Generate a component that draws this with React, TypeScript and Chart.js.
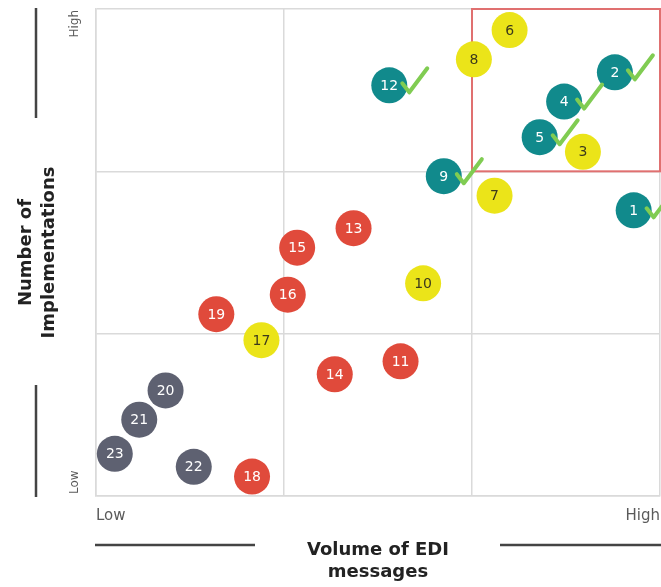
import React, { useEffect, useRef } from "react";
import { Chart, registerables } from "chart.js";

Chart.register(...registerables);

// ---- data ----
const pointIds = [1, 2, 3, 4, 5, 6, 7, 8, 9, 10, 11, 12, 13, 14, 15, 16, 17, 18, 19, 20, 21, 22, 23];
const volumeOfMessages = [28.6, 27.6, 25.9, 24.9, 23.6, 22.0, 21.2, 20.1, 18.5, 17.4, 16.2, 15.6, 13.7, 12.7, 10.7, 10.2, 8.8, 8.3, 6.4, 3.7, 2.3, 5.2, 1.0];
const numberOfImplementations = [17.6, 26.1, 21.2, 24.3, 22.1, 28.7, 18.5, 26.9, 19.7, 13.1, 8.3, 25.3, 16.5, 7.5, 15.3, 12.4, 9.6, 1.2, 11.2, 6.5, 4.7, 1.8, 2.6];
const pointGroup = ["teal", "teal", "yellow", "teal", "teal", "yellow", "yellow", "yellow", "teal", "yellow", "red", "teal", "red", "red", "red", "red", "yellow", "red", "red", "gray", "gray", "gray", "gray"];
const hasCheck = [true, true, false, true, true, false, false, false, true, false, false, true, false, false, false, false, false, false, false, false, false, false, false];
const groups = ["gray", "red", "yellow", "teal"];
const xTickLabels = ["Low", "High"];
const yTickLabels = ["Low", "High"];
const xTitle = ["Volume of EDI", "messages"];
const yTitle = ["Number of", "Implementations"];
const axisMin = 0;
const axisMax = 30;
const axisStep = 10;
const highlightBox = { xMin: 20, xMax: 30, yMin: 20, yMax: 30 };

const groupColors: Record<string, string> = {
  teal: "#118a8c",
  yellow: "#ebe419",
  red: "#e04a3b",
  gray: "#5e6171",
};
const labelColors: Record<string, string> = {
  teal: "#ffffff",
  yellow: "#3c3a1c",
  red: "#ffffff",
  gray: "#ffffff",
};

const FONT = "'DejaVu Sans', sans-serif";

const decorPlugin = {
  id: "decor",
  beforeDatasetsDraw(chart: any) {
    const { ctx, scales } = chart;
    const x = scales.x;
    const y = scales.y;
    ctx.save();
    ctx.strokeStyle = "#e07070";
    ctx.lineWidth = 2;
    const l = x.getPixelForValue(highlightBox.xMin);
    const r = x.getPixelForValue(highlightBox.xMax);
    const t = y.getPixelForValue(highlightBox.yMax);
    const b = y.getPixelForValue(highlightBox.yMin);
    ctx.strokeRect(l, t, r - l, b - t);
    ctx.restore();
  },
  afterDatasetsDraw(chart: any) {
    const { ctx } = chart;
    ctx.save();
    ctx.textAlign = "center";
    ctx.textBaseline = "middle";
    ctx.font = `14px ${FONT}`;
    chart.data.datasets.forEach((ds: any, di: number) => {
      const meta = chart.getDatasetMeta(di);
      meta.data.forEach((el: any, i: number) => {
        const raw = ds.data[i];
        ctx.fillStyle = labelColors[ds.group];
        ctx.fillText(String(raw.id), el.x, el.y + 1);
      });
    });
    // check marks
    ctx.strokeStyle = "#80cc52";
    ctx.lineWidth = 4;
    ctx.lineCap = "round";
    ctx.lineJoin = "round";
    chart.data.datasets.forEach((ds: any, di: number) => {
      const meta = chart.getDatasetMeta(di);
      meta.data.forEach((el: any, i: number) => {
        if (!ds.data[i].check) return;
        ctx.beginPath();
        ctx.moveTo(el.x + 13, el.y - 2);
        ctx.lineTo(el.x + 20, el.y + 7);
        ctx.lineTo(el.x + 38, el.y - 17);
        ctx.stroke();
      });
    });
    ctx.restore();
  },
  afterDraw(chart: any) {
    const { ctx, chartArea } = chart;
    const { left, right, top, bottom } = chartArea;
    ctx.save();
    // y tick labels (rotated)
    ctx.fillStyle = "#5a5a5a";
    ctx.font = `12px ${FONT}`;
    ctx.textBaseline = "middle";
    const tx = left - 21;
    ctx.save();
    ctx.translate(tx, top + 1);
    ctx.rotate(-Math.PI / 2);
    ctx.textAlign = "right";
    ctx.fillText(yTickLabels[1], 0, 0);
    ctx.restore();
    ctx.save();
    ctx.translate(tx, bottom - 2);
    ctx.rotate(-Math.PI / 2);
    ctx.textAlign = "left";
    ctx.fillText(yTickLabels[0], 0, 0);
    ctx.restore();

    // axis title decoration lines
    ctx.strokeStyle = "#444444";
    ctx.lineWidth = 2.5;
    const lx = left - 60;
    ctx.beginPath();
    ctx.moveTo(lx, top - 1);
    ctx.lineTo(lx, top + 109);
    ctx.moveTo(lx, bottom - 111);
    ctx.lineTo(lx, bottom + 1);
    const ly = bottom + 49;
    ctx.moveTo(left - 1, ly);
    ctx.lineTo(left + 159, ly);
    ctx.moveTo(right - 160, ly);
    ctx.lineTo(right + 2, ly);
    ctx.stroke();
    ctx.restore();
  },
};

export default function App() {
  const canvasRef = useRef<HTMLCanvasElement | null>(null);

  useEffect(() => {
    if (!canvasRef.current) return;
    const datasets = groups.map((g) => {
      const data = pointIds
        .map((id, i) => ({ x: volumeOfMessages[i], y: numberOfImplementations[i], id, check: hasCheck[i], g: pointGroup[i] }))
        .filter((p) => p.g === g);
      return {
        group: g,
        data,
        backgroundColor: groupColors[g],
        borderColor: groupColors[g],
        borderWidth: 0,
        pointRadius: 18,
        pointHoverRadius: 18,
        clip: false as any,
      };
    });

    const chart = new Chart(canvasRef.current, {
      type: "scatter",
      data: { datasets: datasets as any },
      options: {
        animation: false,
        responsive: true,
        maintainAspectRatio: false,
        layout: { autoPadding: false, padding: { left: 0, right: 1, top: 9, bottom: 0 } },
        plugins: {
          legend: { display: false },
          tooltip: { enabled: false },
        },
        scales: {
          x: {
            type: "linear",
            min: axisMin,
            max: axisMax,
            afterFit: (s: any) => {
              s.height = 91;
              s.paddingLeft = 0;
              s.paddingRight = 0;
            },
            ticks: {
              stepSize: axisStep,
              align: "inner",
              padding: 11,
              color: "#5a5a5a",
              font: { family: FONT, size: 15 },
              callback: (v: any) => (v === axisMin ? xTickLabels[0] : v === axisMax ? xTickLabels[1] : ""),
            },
            grid: { color: "#dadada", lineWidth: 1.5, drawTicks: false },
            border: { color: "#dadada", width: 1.5 },
            title: {
              display: true,
              text: xTitle,
              color: "#222222",
              font: { family: FONT, size: 18, weight: "bold", lineHeight: 1.22 },
              padding: { top: 0, bottom: 4 },
            },
          },
          y: {
            type: "linear",
            min: axisMin,
            max: axisMax,
            afterFit: (s: any) => {
              s.width = 96;
              s.paddingTop = 0;
              s.paddingBottom = 0;
            },
            ticks: { stepSize: axisStep, display: false },
            grid: { color: "#dadada", lineWidth: 1.5, drawTicks: false },
            border: { color: "#dadada", width: 1.5 },
            title: {
              display: true,
              text: yTitle,
              color: "#222222",
              font: { family: FONT, size: 18, weight: "bold", lineHeight: 1.28 },
              padding: { top: 15, bottom: 0 },
            },
          },
        },
      },
      plugins: [decorPlugin as any],
    });
    return () => chart.destroy();
  }, []);

  return (
    <div style={{ position: "absolute", left: 0, top: 0, width: 661, height: 587, background: "#ffffff" }}>
      <canvas ref={canvasRef} />
    </div>
  );
}
